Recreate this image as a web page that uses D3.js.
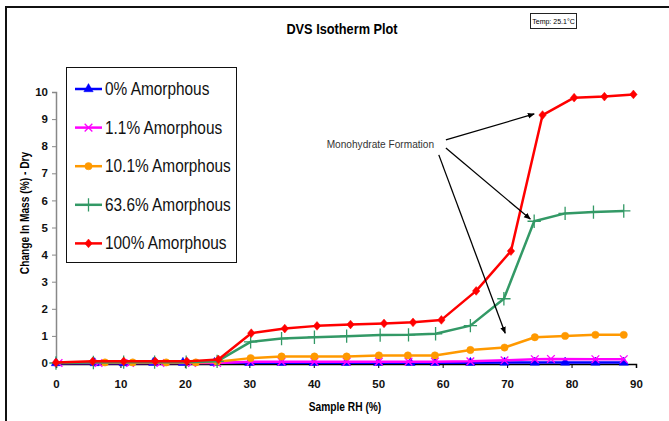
<!DOCTYPE html>
<html>
<head>
<meta charset="utf-8">
<script src="https://cdn.jsdelivr.net/npm/d3@7"></script>
<style>
  body { margin: 0; background: #fff; }
  svg { display: block; font-family: "Liberation Sans", Arial, sans-serif; }
</style>
</head>
<body>
<svg id="chart" width="669" height="421"></svg>
<script>
// series, in legend order
var seriesNames = ["0% Amorphous", "1.1% Amorphous", "10.1% Amorphous", "63.6% Amorphous", "100% Amorphous"];
var seriesColors = ["#0000ff", "#ff00ff", "#ff9900", "#339966", "#ff0000"];

var rh0   = [0, 6, 10.5, 15.1, 19.7, 24.6, 30, 35, 40, 45, 50, 55, 58.8, 64.3, 69.6, 74.3, 79, 83.7, 88.1];
var mass0 = [0, 0, 0, 0.01, 0.01, 0.01, 0.01, 0.01, 0.01, 0.01, 0.01, 0.01, 0.01, 0.01, 0.02, 0.02, 0.02, 0.02, 0.02];

var rh1   = [0.4, 6.6, 11.5, 16.2, 21.1, 25, 30.2, 35, 40.1, 45.1, 50.1, 54.7, 58.8, 64.3, 69.6, 74.3, 76.8, 83.7, 88.1];
var mass1 = [0, 0, 0, 0, 0, 0, 0.05, 0.05, 0.05, 0.05, 0.05, 0.05, 0.05, 0.06, 0.1, 0.14, 0.15, 0.14, 0.14];

var rh10   = [7.6, 11.9, 17.1, 21.7, 25, 30.2, 35, 40.1, 45.1, 50.1, 54.6, 58.8, 64.3, 69.6, 74.3, 79, 83.7, 88.1];
var mass10 = [0.02, 0.02, 0.02, 0.02, 0.05, 0.18, 0.24, 0.24, 0.24, 0.28, 0.28, 0.28, 0.48, 0.57, 0.95, 1.0, 1.04, 1.04];

var rh63   = [0, 5.8, 10.5, 15.3, 20.2, 25, 30.2, 35, 40.1, 45.1, 50.3, 54.7, 58.9, 64.3, 69.5, 74.2, 79, 83.4, 88.1];
var mass63 = [0, 0.02, 0.03, 0.03, 0.03, 0.06, 0.78, 0.9, 0.95, 0.99, 1.03, 1.04, 1.08, 1.38, 2.37, 5.23, 5.52, 5.57, 5.61];

var rh100   = [0, 5.7, 10.5, 15.4, 20.3, 25.2, 30.3, 35.5, 40.5, 45.7, 50.9, 55.4, 59.8, 65.2, 70.6, 75.5, 80.4, 85.1, 89.6];
var mass100 = [0.02, 0.06, 0.06, 0.06, 0.06, 0.13, 1.1, 1.27, 1.37, 1.42, 1.46, 1.5, 1.59, 2.66, 4.13, 9.15, 9.79, 9.83, 9.91];

var xTicks = [0, 10, 20, 30, 40, 50, 60, 70, 80, 90];
var yTicks = [0, 1, 2, 3, 4, 5, 6, 7, 8, 9, 10];

// "Monohydrate Formation" note, in data units (RH, mass)
var noteAt = [42, 7.95];
var arrowFrom = [[60.5, 8.23], [60.5, 7.93], [59.4, 7.68]];
var arrowTo   = [[74.2, 9.19], [73.6, 5.31], [69.7, 1.1]];

// squat diamond like the excel marker
var excelDiamond = {
  draw: function(ctx, size) {
    var h = Math.sqrt(size) * 0.62, w = h * 0.85;
    ctx.moveTo(0, -h); ctx.lineTo(w, 0); ctx.lineTo(0, h); ctx.lineTo(-w, 0); ctx.closePath();
  }
};

var series = [
  { name: seriesNames[0], color: seriesColors[0], rh: rh0, mass: mass0, symbol: d3.symbolTriangle, size: 38, filled: true },
  { name: seriesNames[1], color: seriesColors[1], rh: rh1, mass: mass1, symbol: d3.symbolX, size: 40, filled: false },
  { name: seriesNames[2], color: seriesColors[2], rh: rh10, mass: mass10, symbol: d3.symbolCircle, size: 42, filled: true },
  { name: seriesNames[3], color: seriesColors[3], rh: rh63, mass: mass63, symbol: d3.symbolPlus, size: 60, filled: false },
  { name: seriesNames[4], color: seriesColors[4], rh: rh100, mass: mass100, symbol: excelDiamond, size: 50, filled: true }
];

var svg = d3.select("#chart");

var x = d3.scaleLinear().domain([0, 90]).range([56, 636]);
var y = d3.scaleLinear().domain([0, 10]).range([363, 92]);

// outer chart border (runs off the right and bottom)
svg.append("rect")
  .attr("x", 6).attr("y", 7).attr("width", 720).attr("height", 480)
  .attr("fill", "none").attr("stroke", "#111").attr("stroke-width", 2);

// squeezed text, the original was rendered narrow
function label(parent, tx, ty, txt, size, weight, anchor, rot, sx) {
  var t = "translate(" + tx + "," + ty + ")" + (rot ? " rotate(" + rot + ")" : "") + " scale(" + (sx || 0.88) + ",1)";
  return parent.append("text")
    .attr("transform", t)
    .attr("text-anchor", anchor || "start")
    .attr("font-size", size)
    .attr("font-weight", weight || "normal")
    .text(txt);
}

label(svg, 342, 34, "DVS Isotherm Plot", 14.5, "bold", "middle");

// temperature box
svg.append("rect")
  .attr("x", 530.5).attr("y", 13.5).attr("width", 46).attr("height", 15)
  .attr("fill", "#fff").attr("stroke", "#222").attr("stroke-width", 1);
svg.append("text")
  .attr("x", 553.5).attr("y", 24)
  .attr("text-anchor", "middle").attr("font-size", 7).attr("fill", "#000")
  .text("Temp: 25.1°C");

// axes
var yAxis = svg.append("g")
  .attr("transform", "translate(56,0)")
  .call(d3.axisLeft(y).tickValues(yTicks).tickFormat(d3.format("d")).tickSize(4).tickPadding(4));
yAxis.select(".domain").attr("stroke", "#888").attr("stroke-width", 1.5);
yAxis.selectAll(".tick line").attr("stroke", "#888");
yAxis.selectAll("text").attr("font-size", 11.5).attr("font-weight", "bold").attr("fill", "#111")
  .attr("font-family", "\"Liberation Sans\", Arial, sans-serif");

var xAxis = svg.append("g")
  .attr("transform", "translate(0,364)")
  .call(d3.axisBottom(x).tickValues(xTicks).tickFormat(d3.format("d")).tickSize(4).tickSizeOuter(4).tickPadding(12));
xAxis.select(".domain").attr("stroke", "#000").attr("stroke-width", 1.5);
xAxis.selectAll(".tick line").attr("stroke", "#000");
xAxis.selectAll("text").attr("font-size", 11.5).attr("font-weight", "bold").attr("fill", "#111")
  .attr("font-family", "\"Liberation Sans\", Arial, sans-serif");

label(svg, 345, 411, "Sample RH (%)", 12, "bold", "middle", 0, 0.85);
label(svg, 29, 213, "Change In Mass (%) - Dry", 12, "bold", "middle", -90, 0.85);

// series lines and markers
var line = d3.line()
  .x(function(d) { return x(d[0]); })
  .y(function(d) { return y(d[1]); });

function markerPath(s) {
  return d3.symbol().type(s.symbol).size(s.size)();
}

series.forEach(function(s) {
  var pts = s.rh.map(function(v, i) { return [v, s.mass[i]]; });
  var g = svg.append("g");
  g.append("path")
    .attr("d", line(pts))
    .attr("fill", "none")
    .attr("stroke", s.color)
    .attr("stroke-width", 2.5)
    .attr("stroke-linejoin", "round");
  g.selectAll("path.mk")
    .data(pts)
    .enter().append("path")
    .attr("class", "mk")
    .attr("d", markerPath(s))
    .attr("transform", function(d) { return "translate(" + x(d[0]) + "," + y(d[1]) + ")"; })
    .attr("fill", s.filled ? s.color : "none")
    .attr("stroke", s.color)
    .attr("stroke-width", s.filled ? 0.5 : 1.3);
});

// annotation arrows
svg.append("defs").append("marker")
  .attr("id", "head")
  .attr("viewBox", "0 0 10 10")
  .attr("refX", 9).attr("refY", 5)
  .attr("markerWidth", 7).attr("markerHeight", 7)
  .attr("markerUnits", "userSpaceOnUse")
  .attr("orient", "auto")
  .append("path").attr("d", "M0,1 L10,5 L0,9 Z").attr("fill", "#000");

arrowFrom.forEach(function(a, i) {
  svg.append("line")
    .attr("x1", x(a[0])).attr("y1", y(a[1]))
    .attr("x2", x(arrowTo[i][0])).attr("y2", y(arrowTo[i][1]))
    .attr("stroke", "#000").attr("stroke-width", 1.3)
    .attr("marker-end", "url(#head)");
});
label(svg, x(noteAt[0]), y(noteAt[1]), "Monohydrate Formation", 11.5, "normal", "start").attr("fill", "#333");

// legend
var legend = svg.append("g");
legend.append("rect")
  .attr("x", 66.5).attr("y", 67.5).attr("width", 170).attr("height", 195)
  .attr("fill", "#fff").attr("stroke", "#111").attr("stroke-width", 1);

series.forEach(function(s, i) {
  var ly = 89 + i * 38.6;
  legend.append("line")
    .attr("x1", 75).attr("x2", 102).attr("y1", ly).attr("y2", ly)
    .attr("stroke", s.color).attr("stroke-width", 2.5);
  legend.append("path")
    .attr("d", markerPath(s))
    .attr("transform", "translate(88.5," + ly + ")")
    .attr("fill", s.filled ? s.color : "none")
    .attr("stroke", s.color)
    .attr("stroke-width", s.filled ? 0.5 : 1.3);
  label(legend, 105, ly + 6, s.name, 17.5, "normal", "start").attr("fill", "#111");
});
</script>
</body>
</html>
